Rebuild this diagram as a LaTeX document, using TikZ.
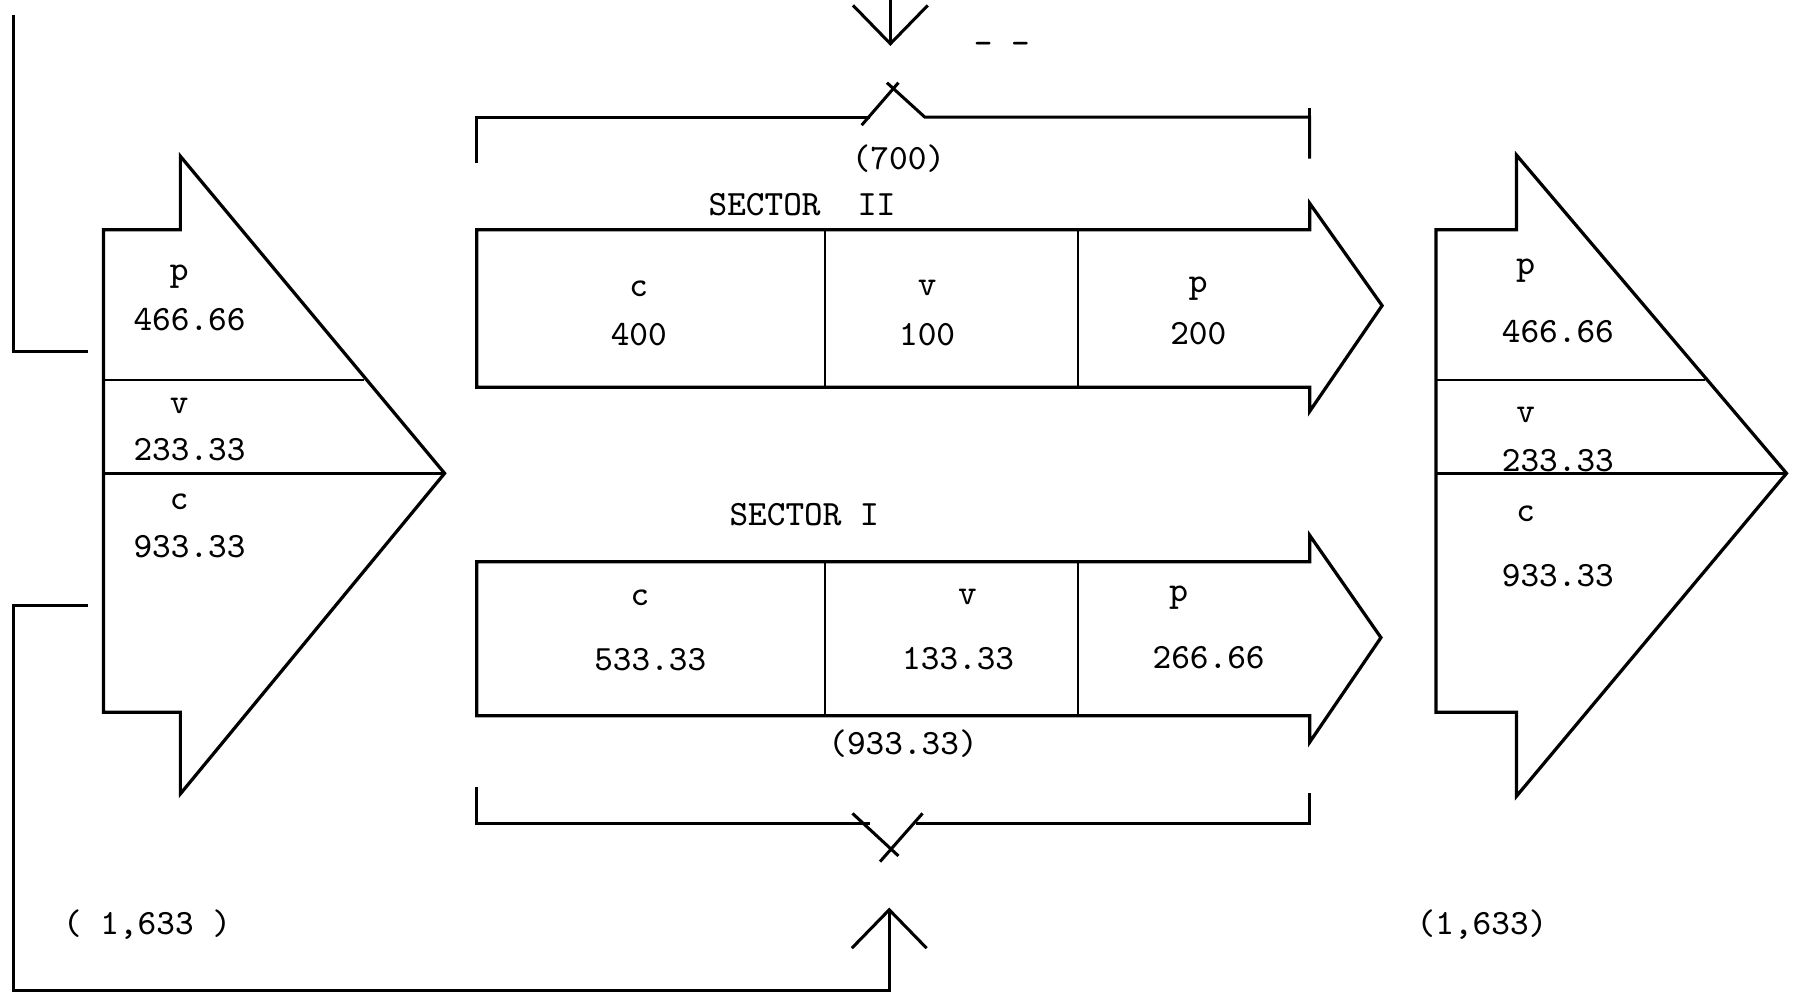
\documentclass[tikz,border=0pt]{standalone}
\usepackage{tikz}
\usetikzlibrary{positioning,arrows.meta}

\begin{document}
\begin{tikzpicture}[x=0.01cm,y=-0.01cm,font=\fontsize{8.8}{10.5}\selectfont\ttfamily]
\tikzstyle{outline}=[line width=0.8pt,line join=miter]
\tikzstyle{divider}=[line width=0.45pt]
\tikzstyle{feed}=[line width=0.75pt]
\tikzstyle{lbl}=[inner sep=0pt]
\tikzstyle{barb}=[-{Straight Barb[length=9.5pt,width=18.5pt,line width=0.75pt]}]
\useasboundingbox (0,0) rectangle (1565,865);

% total value, left
\draw[outline] (90,200) -- (157,200) -- (157,136) -- (387,412) -- (157,691) -- (157,620) -- (90,620) -- cycle;
\draw[divider] (90,331) -- (317,331);
\draw[outline] (90,412) -- (387,412);
\node(lp)[lbl] at (156,241) {p};
\node(lpv)[lbl] at (165,278) {466.66};
\node(lv)[lbl] at (156,353) {v};
\node(lvv)[lbl] at (165,391) {233.33};
\node(lc)[lbl] at (156,437) {c};
\node(lcv)[lbl] at (165,476) {933.33};
\node(ltot)[lbl] at (128,805) {( 1,633 )};

% sector II
\draw[outline] (415,200) -- (1140,200) -- (1140,177) -- (1203,266) -- (1140,358) -- (1140,337) -- (415,337) -- cycle;
\draw[divider] (718,200) -- (718,337);
\draw[divider] (938,200) -- (938,337);
\node(s2)[lbl] at (698,178) {SECTOR~~II};
\node(s2c)[lbl] at (556,251) {c};
\node(s2cv)[lbl] at (556,291) {400};
\node(s2v)[lbl] at (807,251) {v};
\node(s2vv)[lbl] at (807,291) {100};
\node(s2p)[lbl] at (1043,251) {p};
\node(s2pv)[lbl] at (1043,290) {200};

% sector I
\draw[outline] (415,489) -- (1140,489) -- (1140,466) -- (1202,555) -- (1140,646) -- (1140,623) -- (415,623) -- cycle;
\draw[divider] (718,489) -- (718,623);
\draw[divider] (938,489) -- (938,623);
\node(s1)[lbl] at (700,448) {SECTOR I};
\node(s1c)[lbl] at (557,520) {c};
\node(s1cv)[lbl] at (566,574) {533.33};
\node(s1v)[lbl] at (842,520) {v};
\node(s1vv)[lbl] at (834,573) {133.33};
\node(s1p)[lbl] at (1026,520) {p};
\node(s1pv)[lbl] at (1052,572) {266.66};
\node(s1tot)[lbl] at (786,647) {(933.33)};

% total value, right
\draw[outline] (1250,200) -- (1320,200) -- (1320,135) -- (1555,412) -- (1320,693) -- (1320,620) -- (1250,620) -- cycle;
\draw[divider] (1250,331) -- (1484,331);
\draw[outline] (1250,412) -- (1555,412);
\node(rp)[lbl] at (1328,236) {p};
\node(rpv)[lbl] at (1356,289) {466.66};
\node(rv)[lbl] at (1328,361) {v};
\node(rvv)[lbl] at (1356,401) {233.33};
\node(rc)[lbl] at (1328,447) {c};
\node(rcv)[lbl] at (1356,501) {933.33};
\node(rtot)[lbl] at (1290,805) {(1,633)};

% brackets
\node(s2tot)[lbl] at (782,138) {(700)};
\draw[feed] (415,142) -- (415,102) -- (757,102);
\draw[feed] (750,109) -- (782,72);
\draw[feed] (772,72) -- (805,102) -- (1140,102) -- (1140,138);
\draw[feed] (1140,102) -- (1140,94);
\draw[feed] (415,685) -- (415,717) -- (757,717);
\draw[feed] (742,708) -- (782,745);
\draw[feed] (803,708) -- (766,750);
\draw[feed] (797,717) -- (1140,717) -- (1140,690);

% feedback lines
\coordinate(topsrc) at (775,0);
\coordinate(topend) at (775,40);
\draw[feed,barb] (topsrc) -- (topend);
\node(dash)[lbl] at (872,42) {- -};
\coordinate(fa) at (12,13);
\coordinate(fb) at (77,306);
\draw[feed] (fa) |- (fb);
\coordinate(fc) at (77,527);
\coordinate(fd) at (12,862);
\coordinate(fe) at (774,790);
\draw[feed,barb] (fc) -- (fc -| fd) -- (fd) -| (fe);
\end{tikzpicture}
\end{document}
